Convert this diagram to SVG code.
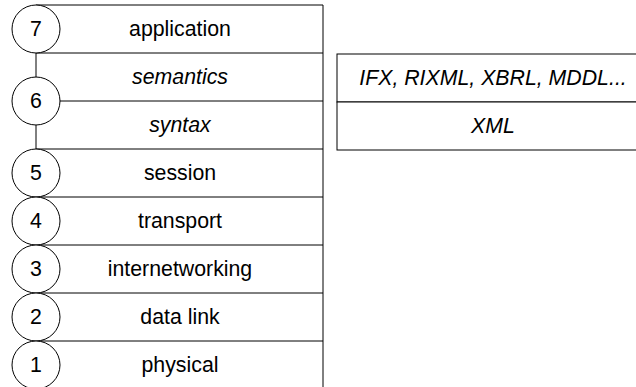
<svg xmlns="http://www.w3.org/2000/svg" width="636" height="387" viewBox="0 0 636 387">
  <style>
    .ln { stroke: #000; stroke-width: 1; fill: none; }
    .box { stroke: #000; stroke-width: 1; fill: #fff; }
    .num { stroke: #000; stroke-width: 1; fill: #fff; }
    text { font-family: "Liberation Sans", Arial, sans-serif; font-size: 21.3px; fill: #000; text-anchor: middle; }
    .it { font-style: italic; }
  </style>

  <!-- layer stack frame and row separators -->
  <g id="connectors">
    <line class="ln" x1="36" y1="5" x2="323" y2="5"/>
    <line class="ln" x1="36" y1="53" x2="323" y2="53"/>
    <line class="ln" x1="36" y1="101" x2="323" y2="101"/>
    <line class="ln" x1="36" y1="149" x2="323" y2="149"/>
    <line class="ln" x1="36" y1="197" x2="323" y2="197"/>
    <line class="ln" x1="36" y1="245" x2="323" y2="245"/>
    <line class="ln" x1="36" y1="293" x2="323" y2="293"/>
    <line class="ln" x1="36" y1="341" x2="323" y2="341"/>
    <line class="ln" x1="323" y1="5" x2="323" y2="387"/>
    <!-- link between layer numbers 7, 6 and 5 -->
    <line class="ln" x1="36" y1="53" x2="36" y2="149"/>
  </g>

  <!-- layer labels -->
  <g id="layer-application"><text x="180" y="36">application</text></g>
  <g id="layer-semantics"><text class="it" x="180" y="84">semantics</text></g>
  <g id="layer-syntax"><text class="it" x="180" y="132">syntax</text></g>
  <g id="layer-session"><text x="180" y="180">session</text></g>
  <g id="layer-transport"><text x="180" y="228">transport</text></g>
  <g id="layer-internetworking"><text x="180" y="276">internetworking</text></g>
  <g id="layer-datalink"><text x="180" y="324">data link</text></g>
  <g id="layer-physical"><text x="180" y="372">physical</text></g>

  <!-- layer numbers -->
  <g id="n7"><circle class="num" cx="36" cy="29" r="24"/><text x="36" y="36">7</text></g>
  <g id="n6"><circle class="num" cx="36" cy="101" r="24"/><text x="36" y="108">6</text></g>
  <g id="n5"><circle class="num" cx="36" cy="173" r="24"/><text x="36" y="180">5</text></g>
  <g id="n4"><circle class="num" cx="36" cy="221" r="24"/><text x="36" y="228">4</text></g>
  <g id="n3"><circle class="num" cx="36" cy="269" r="24"/><text x="36" y="276">3</text></g>
  <g id="n2"><circle class="num" cx="36" cy="317" r="24"/><text x="36" y="324">2</text></g>
  <g id="n1"><circle class="num" cx="36" cy="365" r="24"/><text x="36" y="372">1</text></g>

  <!-- XML-based standards -->
  <g id="standards">
    <rect class="box" x="337" y="54" width="320" height="48"/>
    <text class="it" x="493" y="85">IFX, RIXML, XBRL, MDDL...</text>
  </g>
  <g id="xml">
    <rect class="box" x="337" y="102" width="320" height="48"/>
    <text class="it" x="493" y="133">XML</text>
  </g>
</svg>
